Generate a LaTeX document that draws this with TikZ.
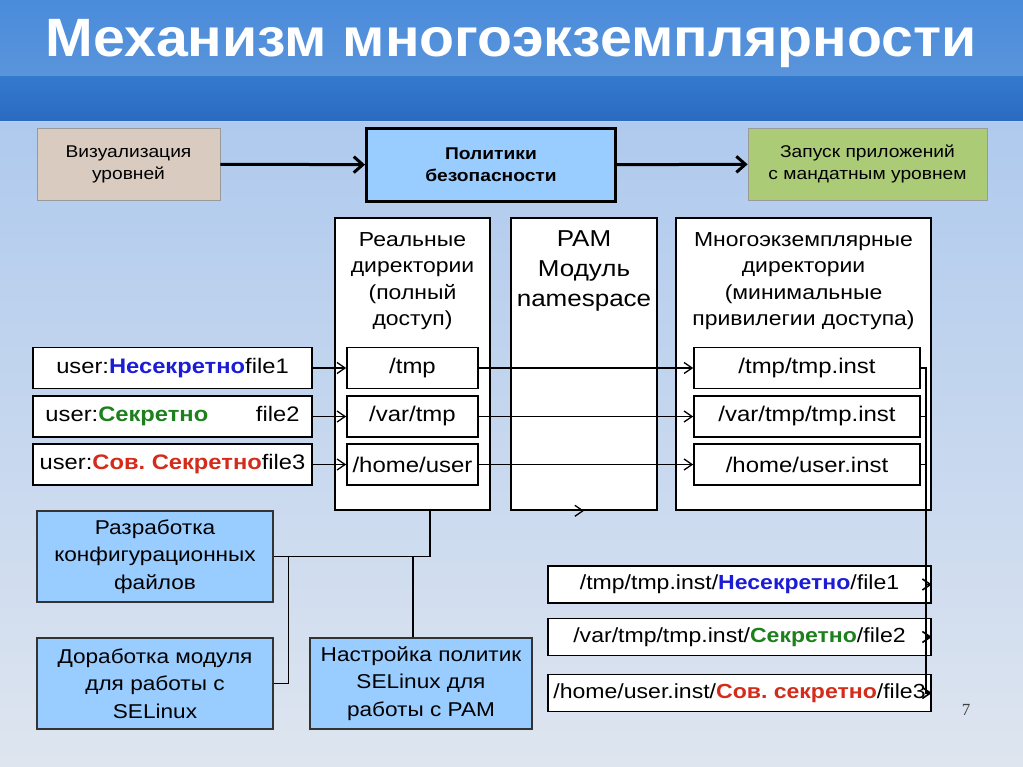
\documentclass[tikz,border=0pt]{standalone}
\usepackage{fontspec}
\setmainfont{Liberation Sans}[FakeStretch=1.13]
\newfontfamily\titlefont{Liberation Sans}[FakeStretch=1.06]
\newfontfamily\pagefont{Liberation Serif}
\usetikzlibrary{arrows.meta, positioning}
\definecolor{bandtop}{HTML}{4A8BDB}
\definecolor{bandtopb}{HTML}{5A95DB}
\definecolor{bandlow}{HTML}{3379CE}
\definecolor{bandlowb}{HTML}{2A6BC0}
\definecolor{bodytop}{HTML}{AFCAEE}
\definecolor{bodybot}{HTML}{DEE5EF}
\definecolor{lvlsky}{HTML}{99CCFF}
\definecolor{lvltan}{HTML}{D9CBC0}
\definecolor{lvlgreen}{HTML}{ABCB76}
\definecolor{edgegray}{HTML}{9A9A9A}
\definecolor{unclass}{HTML}{1C1CD6}
\definecolor{secret}{HTML}{1D801D}
\definecolor{topsecret}{HTML}{D42B1B}
\newcommand{\fsz}[2]{\fontsize{#1bp}{#2bp}\selectfont}
\frenchspacing

\begin{document}
\begin{tikzpicture}[x=1bp, y=-1bp,
  thick arrow/.style={line width=3bp, -{Straight Barb[length=9bp, width=16bp]}},
  thin arrow/.style={line width=1.3bp, -{Straight Barb[length=8bp, width=11bp]}},
  link/.style={line width=1.4bp},
  topbox/.style={draw=edgegray, line width=0.8bp, align=center, font=\fsz{17}{22}, inner sep=0pt, minimum height=72bp},
  colbox/.style={draw, fill=white, line width=1.6bp, inner sep=0pt, minimum height=292bp},
  coltext/.style={anchor=north, align=center, inner sep=0pt, font=\fsz{20.3}{26.5}},
  dirbox/.style={draw, fill=white, line width=1.6bp, minimum height=41bp, inner sep=0pt, font=\fsz{21.2}{24}},
  userbox/.style={dirbox, minimum width=279bp, font=\fsz{21}{24}},
  filebox/.style={draw, fill=white, line width=1.6bp, minimum width=383bp, minimum height=37bp, inner sep=0pt, font=\fsz{20.4}{24}},
  taskbox/.style={draw=black!80, fill=lvlsky, line width=1.2bp, align=center, font=\fsz{20}{27.5}, inner sep=0pt, minimum height=91bp}
]

% Background
\useasboundingbox (0,0) rectangle (1023,767);
\shade[top color=bodytop, bottom color=bodybot] (0,121) rectangle (1023,767);
\shade[top color=bandtop, bottom color=bandtopb] (0,0) rectangle (1023,77);
\shade[top color=bandlow, bottom color=bandlowb] (0,77) rectangle (1023,121);
\draw[white!60!bandtop, line width=1bp] (0,121.5) -- (1023,121.5);

% Title
\node[text=white, font=\titlefont\fsz{54}{60}\bfseries] (title) at (511,44) {Механизм многоэкземплярности};

% --- Top row ---
\node[topbox, fill=lvltan, minimum width=183bp] (viz) at (128.5,164) {Визуализация\\уровней};
\node[topbox, fill=lvlsky, draw=black, line width=3bp, minimum width=249bp, minimum height=73bp, font=\fsz{17}{22}\bfseries] (pol) at (491,165) {Политики\\безопасности};
\node[topbox, fill=lvlgreen, minimum width=239bp] (zap) at (867.5,164) {Запуск приложений\\с мандатным уровнем};
\draw[thick arrow] (viz) -- (pol);
\draw[thick arrow] (pol) -- (zap);

% --- Columns ---
\node[colbox, minimum width=155bp] (real) at (412.5,364) {};
\node[colbox, minimum width=146bp] (pam) at (584,364) {};
\node[colbox, minimum width=255bp] (multi) at (803.5,364) {};
\node[coltext] at ([yshift=-15bp]real.north) {Реальные\\директории\\(полный\\доступ)};
\node[coltext, font=\fsz{23}{30}] at ([yshift=-13bp]pam.north) {PAM\\Модуль\\namespace};
\node[coltext] at ([yshift=-15bp]multi.north) {Многоэкземплярные\\директории\\(минимальные\\привилегии доступа)};

% real directories
\node[dirbox, minimum width=131bp] (tmp) at (412.5,368) {/tmp};
\node[dirbox, minimum width=131bp] (vartmp) at (412.5,416.5) {/var/tmp};
\node[dirbox, minimum width=131bp] (home) at (412.5,464.5) {/home/user};

% polyinstantiated directories
\node[dirbox, minimum width=226bp] (tmpi) at (807,368) {/tmp/tmp.inst};
\node[dirbox, minimum width=226bp] (vartmpi) at (807,416.5) {/var/tmp/tmp.inst};
\node[dirbox, minimum width=226bp] (homei) at (807,464.5) {/home/user.inst};

% users
\node[userbox] (u1) at (172.5,368) {user:\textcolor{unclass}{\textbf{Несекретно}}file1};
\node[userbox] (u2) at (172.5,416.5) {\makebox[254bp]{user:\textcolor{secret}{\textbf{Секретно}}\hfill file2}};
\node[userbox] (u3) at (172.5,464.5) {user:\textcolor{topsecret}{\textbf{Сов. Секретно}}file3};

\foreach \a/\b/\c in {u1/tmp/tmpi, u2/vartmp/vartmpi, u3/home/homei}{
  \draw[thin arrow] (\a) -- (\b);
  \draw[thin arrow] (\b) -- (\c);
}
\draw[thin arrow] (pam.south west) -- (pam.south);

% --- Files ---
\node[filebox] (f1) at (739.5,584.5) {/tmp/tmp.inst/\textcolor{unclass}{\textbf{Несекретно}}/file1};
\node[filebox] (f2) at (739.5,637) {/var/tmp/tmp.inst/\textcolor{secret}{\textbf{Секретно}}/file2};
\node[filebox] (f3) at (739.5,693) {/home/user.inst/\textcolor{topsecret}{\textbf{Сов. секретно}}/file3};
\foreach \a/\b in {tmpi/f1, vartmpi/f2, homei/f3}
  \draw[thin arrow, line width=1.6bp] (\a.east) -- ++(5,0) |- (\b.east);

% --- Tasks ---
\node[taskbox, minimum width=236bp] (razr) at (155,556.5) {Разработка\\конфигурационных\\файлов};
\node[taskbox, minimum width=236bp] (dor) at (155,683.5) {Доработка модуля\\для работы с\\SELinux};
\node[taskbox, minimum width=222bp] (nastr) at (421,683.5) {Настройка политик\\SELinux для\\работы с PAM};
\draw[link] ([xshift=17.5bp]real.south) |- (razr.east);
\draw[link] ([xshift=-8bp]nastr.north) -- ([xshift=-8bp]nastr.north |- razr.east);
\draw[link] (dor.east) -- ++(15,0) |- ([xshift=29bp]razr.east);

% page number
\node[text=black!75, font=\pagefont\fsz{17}{20}] (pgno) at (966,710) {7};

\end{tikzpicture}
\end{document}
